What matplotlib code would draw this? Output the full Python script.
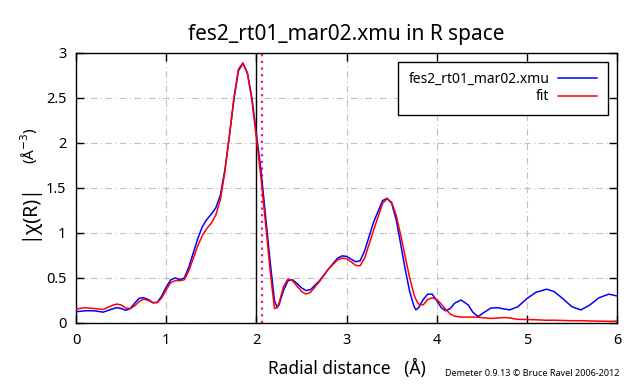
"""chi(R) magnitude of fes2_rt01_mar02.xmu with its fit, Demeter/gnuplot look."""

import matplotlib

matplotlib.use("Agg")
import matplotlib.pyplot as plt

plt.rcParams["font.family"] = ["Noto Sans", "DejaVu Sans"]

# radial grid (Angstrom) and |chi(R)| values
r = [
    0.0, 0.1, 0.2, 0.3, 0.4, 0.45, 0.5, 0.55, 0.6, 0.65, 0.7, 0.75, 0.8, 0.85,
    0.9, 0.95, 1.0, 1.05, 1.1, 1.15, 1.2, 1.25, 1.3, 1.35, 1.4, 1.45, 1.5,
    1.55, 1.6, 1.65, 1.7, 1.75, 1.8, 1.85, 1.9, 1.95, 2.0, 2.05, 2.1, 2.15,
    2.2, 2.23, 2.25, 2.3, 2.35, 2.4, 2.45, 2.5, 2.55, 2.6, 2.7, 2.8, 2.9,
    2.95, 3.0, 3.05, 3.1, 3.15, 3.2, 3.3, 3.4, 3.45, 3.5, 3.55, 3.6, 3.65,
    3.7, 3.75, 3.77, 3.8, 3.85, 3.9, 3.95, 4.0, 4.05, 4.1, 4.15, 4.2, 4.27,
    4.35, 4.4, 4.46, 4.5, 4.6, 4.67, 4.75, 4.81, 4.9, 5.0, 5.1, 5.22, 5.3,
    5.4, 5.5, 5.6, 5.7, 5.8, 5.91, 6.0,
]
chi_data = [
    0.125, 0.135, 0.135, 0.12, 0.155, 0.17, 0.16, 0.14, 0.16, 0.22, 0.275,
    0.28, 0.26, 0.225, 0.23, 0.30, 0.40, 0.48, 0.50, 0.48, 0.50, 0.62, 0.78,
    0.94, 1.07, 1.15, 1.21, 1.28, 1.42, 1.70, 2.08, 2.48, 2.80, 2.885, 2.78,
    2.50, 2.10, 1.70, 1.20, 0.70, 0.25, 0.17, 0.20, 0.36, 0.47, 0.48, 0.44,
    0.39, 0.36, 0.37, 0.47, 0.60, 0.72, 0.745, 0.74, 0.71, 0.68, 0.69, 0.80,
    1.12, 1.36, 1.385, 1.33, 1.15, 0.88, 0.60, 0.35, 0.18, 0.145, 0.17, 0.26,
    0.32, 0.32, 0.25, 0.17, 0.135, 0.16, 0.22, 0.255, 0.20, 0.12, 0.07, 0.10,
    0.165, 0.17, 0.155, 0.145, 0.18, 0.27, 0.34, 0.375, 0.35, 0.27, 0.18,
    0.145, 0.20, 0.28, 0.32, 0.30,
]
chi_fit = [
    0.155, 0.17, 0.16, 0.15, 0.195, 0.21, 0.20, 0.165, 0.16, 0.19, 0.24,
    0.265, 0.25, 0.225, 0.225, 0.28, 0.37, 0.45, 0.47, 0.47, 0.48, 0.58,
    0.72, 0.86, 0.97, 1.05, 1.11, 1.20, 1.37, 1.68, 2.08, 2.50, 2.82, 2.89,
    2.77, 2.47, 2.05, 1.62, 1.12, 0.60, 0.16, 0.17, 0.22, 0.40, 0.49, 0.47,
    0.41, 0.35, 0.32, 0.34, 0.46, 0.60, 0.70, 0.72, 0.715, 0.68, 0.64, 0.635,
    0.72, 1.03, 1.33, 1.38, 1.34, 1.20, 0.98, 0.74, 0.50, 0.31, 0.26, 0.21,
    0.20, 0.26, 0.28, 0.26, 0.21, 0.15, 0.10, 0.075, 0.065, 0.065, 0.065,
    0.063, 0.06, 0.05, 0.055, 0.06, 0.055, 0.04, 0.038, 0.035, 0.03, 0.03,
    0.028, 0.025, 0.025, 0.022, 0.02, 0.018, 0.02,
]

# fit-range markers
rmin_line = 1.99
rmax_line = 2.06

x_ticks = [0, 1, 2, 3, 4, 5, 6]
y_ticks = [0, 0.5, 1, 1.5, 2, 2.5, 3]
y_tick_labels = ["0", "0.5", "1", "1.5", "2", "2.5", "3"]

fig = plt.figure(figsize=(6.4, 3.84), dpi=100)
ax = fig.add_axes([0.119, 0.159, 0.845, 0.703])

ax.axvline(rmin_line, color="black", linewidth=1.0, zorder=2)
ax.axvline(rmax_line, color="#e8158c", linewidth=1.6, linestyle=(0, (1, 2)), zorder=2)
ax.plot(r, chi_data, color="#0000ff", linewidth=1.1, label="fes2_rt01_mar02.xmu", zorder=3)
ax.plot(r, chi_fit, color="#ff0000", linewidth=1.1, label="fit", zorder=3)

ax.set_xlim(0, 6)
ax.set_ylim(0, 3)
ax.set_xticks(x_ticks)
ax.set_yticks(y_ticks)
ax.set_yticklabels(y_tick_labels)
ax.tick_params(direction="in", length=6, width=1, top=True, right=True,
               labelsize=10.5, pad=7)
ax.grid(True, color="#c0c0c0", linewidth=0.8, linestyle=(0, (6, 3, 1, 3)))
for spine in ax.spines.values():
    spine.set_linewidth(1.0)

ax.set_title("fes2_rt01_mar02.xmu in R space", fontsize=15, pad=9)
ax.set_xlabel("Radial distance   (Å)", fontsize=12.5, labelpad=8)

# y label: large |chi(R)| with the unit further up, gnuplot style
fig.text(0.045, 0.45, "|χ(R)|", rotation=90, fontsize=14, ha="center", va="center")
fig.text(0.045, 0.62, r"(Å$^{-3}$)", rotation=90, fontsize=11, ha="center", va="center")

fig.text(0.968, 0.027, "Demeter 0.9.13 © Bruce Ravel 2006-2012", fontsize=6.5,
         ha="right", va="center")

leg = ax.legend(loc="upper right", bbox_to_anchor=(0.983, 0.967), borderaxespad=0,
                markerfirst=False, fontsize=10, handlelength=2.8, handletextpad=0.65,
                fancybox=False, framealpha=1, edgecolor="black", borderpad=0.75,
                labelspacing=0.15)
leg.get_frame().set_linewidth(1.0)

fig.savefig("out.png", dpi=100)
